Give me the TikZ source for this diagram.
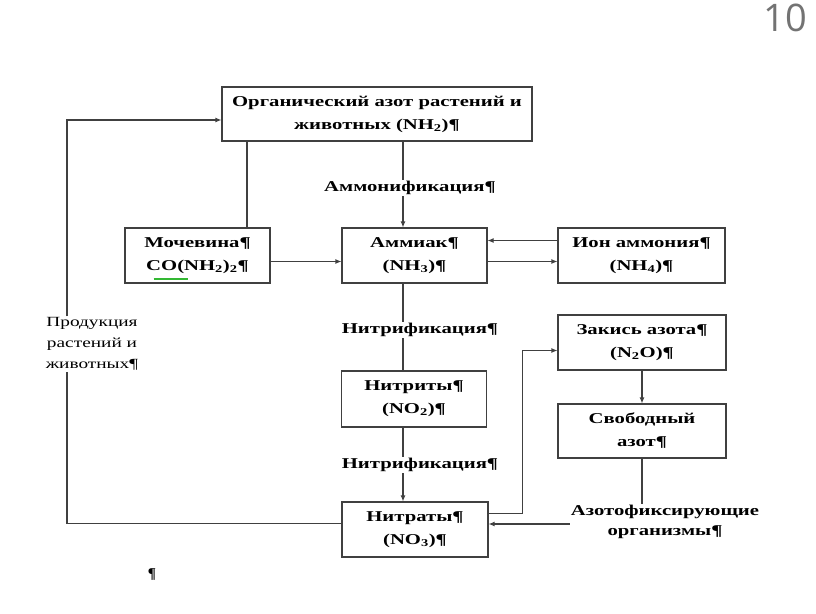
\documentclass[tikz,border=0pt]{standalone}
\usepackage{fontspec}
\setmainfont{Liberation Serif}
\newfontfamily\boxfont[FakeStretch=1.38]{Liberation Serif}
\newfontfamily\numfont{Open Sans}
\usetikzlibrary{arrows.meta,positioning}

\begin{document}
\begin{tikzpicture}[x=1pt,y=-1pt,
  box/.style={draw=black!75,line width=1.1pt,fill=white,align=center,
    font=\boxfont\fontsize{15}{23}\selectfont\bfseries,inner sep=2pt},
  lbl/.style={fill=white,align=center,font=\boxfont\fontsize{15}{18}\selectfont\bfseries,inner sep=1pt},
  link/.style={draw=black!75,line width=1.1pt},
  arr/.style={link,-{Latex[length=6pt,width=5pt]}}]
  \useasboundingbox (0,0) rectangle (816,613);
  % boxes
  \node[box,minimum width=310pt,minimum height=54pt] (org) at (377,114)
    {Органический азот растений и\\животных (NH\textsubscript{2})¶};
  \node[box,minimum width=145pt,minimum height=55pt] (moch) at (197.5,255.5)
    {Мочевина¶\\CO(NH\textsubscript{2})\textsubscript{2}¶};
  \node[box,minimum width=145pt,minimum height=55pt] (amm) at (414.5,255.5)
    {Аммиак¶\\(NH\textsubscript{3})¶};
  \node[box,minimum width=167pt,minimum height=55pt] (ion) at (641.5,255.5)
    {Ион аммония¶\\(NH\textsubscript{4})¶};
  \node[box,minimum width=145pt,minimum height=56pt] (nitrit) at (414,399)
    {Нитриты¶\\(NO\textsubscript{2})¶};
  \node[box,minimum width=146pt,minimum height=55pt] (nitrat) at (415,529.5)
    {Нитраты¶\\(NO\textsubscript{3})¶};
  \node[box,minimum width=168pt,minimum height=55pt] (zakis) at (642,342.5)
    {Закись азота¶\\(N\textsubscript{2}O)¶};
  \node[box,minimum width=168pt,minimum height=54pt] (svob) at (642,431)
    {Свободный\\азот¶};
  % spell-check mark under CO
  \draw[green!65!black!80,line width=1.2pt] ([xshift=-44,yshift=-23.5]moch.center) -- ([xshift=-10,yshift=-23.5]moch.center);
  % labels
  \coordinate (ax) at (403,0);
  \coordinate (mx) at (247,0);
  \coordinate (lx) at (67,0);
  \node[lbl] (ammonif) at (410,188) {Аммонификация¶};
  \node[lbl] (nitrif1) at (420,330) {Нитрификация¶};
  \node[lbl] (nitrif2) at (420,465) {Нитрификация¶};
  \node[lbl,font=\boxfont\fontsize{14}{21}\selectfont] (prod) at (92,344)
    {Продукция\\растений и\\животных¶};
  \node[lbl,font=\boxfont\fontsize{15}{20}\selectfont\bfseries] (fix) at (665,522)
    {Азотофиксирующие\\организмы¶};
  \node[font=\fontsize{15}{15}\selectfont\bfseries] (pil) at (152,575) {¶};
  \node[font=\fontsize{38}{38}\selectfont\numfont,text=black!55] (page) at (785,18) {10};
  % connectors
  \draw[link] (org.south -| mx) -- (moch.north -| mx);
  \draw[link] (org.south -| ax) -- (ammonif.north -| ax);
  \draw[arr] (ammonif.south -| ax) -- (amm.north -| ax);
  \draw[link] (amm.south -| ax) -- (nitrif1.north -| ax);
  \draw[link] (nitrif1.south -| ax) -- (nitrit.north -| ax);
  \draw[link] (nitrit.south -| ax) -- (nitrif2.north -| ax);
  \draw[arr] (nitrif2.south -| ax) -- (nitrat.north -| ax);
  \draw[arr] ([yshift=-6]moch.east) -- ([yshift=-6]moch.east -| amm.west);
  \draw[arr] ([yshift=15]ion.west) -- ([yshift=15]ion.west -| amm.east);
  \draw[arr] ([yshift=-6]amm.east) -- ([yshift=-6]amm.east -| ion.west);
  \draw[arr] ([yshift=16]nitrat.east) -- ++(34,0) |- ([yshift=-8]zakis.west);
  \draw[arr] (zakis.south -| svob) -- (svob.north);
  \draw[link] (svob.south) -- (svob.south |- fix.north);
  \draw[arr] ([yshift=-2]fix.west) -- ([yshift=-2]fix.west -| nitrat.east);
  \draw[link] ([yshift=6]nitrat.west) -- ([yshift=6]nitrat.west -| lx) -- (prod.south -| lx);
  \draw[arr] (prod.north -| lx) -- ([yshift=-6]org.west -| lx) -- ([yshift=-6]org.west);
\end{tikzpicture}
\end{document}
